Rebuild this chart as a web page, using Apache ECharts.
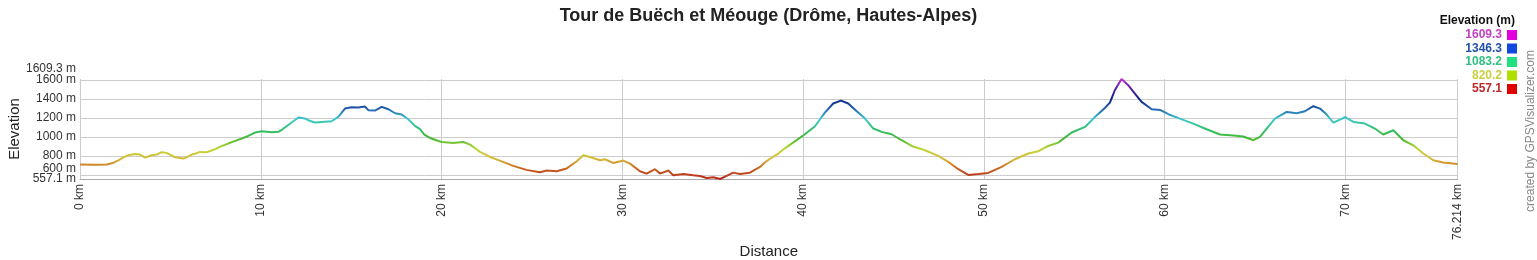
<!DOCTYPE html>
<html>
<head>
<meta charset="utf-8">
<script src="https://cdn.jsdelivr.net/npm/echarts@6/dist/echarts.min.js"></script>
<style>html,body{margin:0;padding:0;background:#fff}#c{width:1537px;height:260px}</style>
</head>
<body>
<div id="c"></div>
<script>
const titleText = 'Tour de Buëch et Méouge (Drôme, Hautes-Alpes)';
const distanceKm = [0,0.8,1.48,1.8,2.12,2.4,2.67,3.04,3.32,3.6,3.96,4.25,4.52,4.79,5.0,5.26,5.72,5.95,6.18,6.4,6.64,7.0,7.47,7.8,8.2,8.55,8.94,9.3,9.68,10.05,10.6,10.97,11.2,11.5,11.8,12.08,12.45,12.7,13.0,13.37,13.92,14.29,14.66,15.03,15.4,15.77,15.95,16.32,16.69,17.06,17.43,17.8,18.16,18.53,18.81,19.05,19.36,19.99,20.65,21.2,21.58,22.13,22.68,23.23,23.97,24.7,25.44,25.82,26.37,26.92,27.48,27.85,28.21,28.77,29.04,29.5,30.06,30.43,30.98,31.35,31.81,32.09,32.55,32.82,33.38,33.93,34.3,34.67,35.04,35.41,35.77,36.14,36.51,37.06,37.62,37.89,38.13,38.63,39.0,39.37,40.03,40.66,41.21,41.67,42.1,42.5,42.97,43.43,43.89,44.35,44.9,45.45,46.01,46.75,47.48,48.04,48.59,49.14,49.7,50.25,50.99,51.72,52.46,53.01,53.57,54.12,54.86,55.6,56.15,56.7,56.98,57.25,57.62,57.99,58.36,58.73,59.29,59.75,60.21,60.85,61.59,62.33,63.07,63.81,64.36,64.92,65.28,65.65,66.11,66.76,67.31,67.77,68.23,68.6,68.97,69.34,69.99,70.45,71.09,71.64,72.1,72.66,73.21,73.76,74.32,74.87,75.42,76.214];
const elevationM = [709,708,709,725,754,785,807,821,814,782,807,815,839,832,810,786,772,790,814,825,842,839,870,900,930,955,982,1010,1046,1060,1049,1053,1080,1123,1165,1203,1193,1170,1151,1158,1165,1210,1298,1312,1309,1319,1281,1277,1316,1291,1249,1235,1186,1116,1081,1025,989,947,937,947,919,842,789,751,695,653,628,646,639,667,744,807,789,754,765,726,751,719,639,614,660,614,646,596,610,596,589,568,575,557.1,589,624,610,624,684,730,765,825,880,930,1018,1112,1256,1351,1382,1351,1270,1193,1088,1053,1028,965,905,860,800,737,660,600,610,621,684,765,825,849,905,940,1046,1105,1210,1305,1361,1491,1609.3,1544,1456,1368,1291,1284,1239,1193,1140,1081,1025,1014,1004,965,1000,1088,1193,1263,1249,1270,1323,1298,1235,1151,1207,1158,1140,1088,1025,1070,965,912,825,754,730,716];
const yMin = 557.1, yMax = 1609.3;
const yTickValues = [557.1,600,800,1000,1200,1400,1600];
const yLabelValues = [600,800,1000,1200,1400,1600];
const xTickValues = [0,10,20,30,40,50,60,70,76.214];
const legendValues = ['1609.3','1346.3','1083.2','820.2','557.1'];
const legendTextColors = ['#c040c0','#2050a8','#30c080','#c8d040','#c02828'];
const legendBoxColors = ['#e000e0','#1048e0','#20e080','#b0e000','#e00000'];
const colorStops = ['#b8281c','#c8601e','#d8b838','#c0d838','#48b830','#30c070','#40c8d0','#2060b0','#102080','#5020a0','#c030d0'];

const seriesData = distanceKm.map((d, i) => [d, elevationM[i]]);
const FONT = '"Liberation Sans", Arial, sans-serif';

const graphics = [];
graphics.push({type:'text', x:1515, y:21, style:{text:'Elevation (m)', font:'bold 12px ' + FONT, fill:'#111', align:'right', verticalAlign:'middle'}});
const legendY = [35, 48.5, 62, 75.5, 89];
legendValues.forEach((v, i) => {
  graphics.push({type:'text', x:1502, y:legendY[i], style:{text:v, font:'bold 12px ' + FONT, fill:legendTextColors[i], align:'right', verticalAlign:'middle'}});
  graphics.push({type:'rect', shape:{x:1507, y:legendY[i]-5, width:10, height:10}, style:{fill:legendBoxColors[i]}});
});
graphics.push({type:'text', x:1531, y:131, rotation:Math.PI/2, style:{text:'created by GPSVisualizer.com', font:'12px ' + FONT, fill:'#888', align:'center', verticalAlign:'middle'}});

const labelStyle = {fontFamily:FONT, fontSize:12, color:'#333'};
function extraAxis(value, padBottom) {
  return {
    type:'value', min:yMin, max:yMax, position:'left', offset:0,
    axisLine:{show:false}, axisTick:{show:false, customValues:[value]}, splitLine:{show:false},
    axisLabel:Object.assign({customValues:[value], margin:4, hideOverlap:false, showMinLabel:true, showMaxLabel:true,
      formatter:() => '{p|' + value + ' m}',
      rich:{p:Object.assign({padding:[0,0,padBottom,0]}, labelStyle)}}, labelStyle)
  };
}

const chart = echarts.init(document.getElementById('c'), null, {renderer:'canvas'});
chart.setOption({
  animation:false,
  title:{text:titleText, left:'center', top:2, textStyle:{fontFamily:FONT, fontWeight:'bold', fontSize:18, color:'#222'}},
  grid:{left:80, top:79, width:1377.6, height:100, containLabel:false, outerBoundsMode:'none'},
  xAxis:{
    type:'value', min:0, max:76.214,
    name:'Distance', nameLocation:'middle', nameGap:64,
    nameTextStyle:{fontFamily:FONT, fontSize:15, color:'#222'},
    axisLine:{show:true, lineStyle:{color:'#aaa'}},
    axisTick:{show:false, customValues:xTickValues},
    axisLabel:Object.assign({customValues:xTickValues, showMinLabel:true, showMaxLabel:true, hideOverlap:false, rotate:90, margin:5, formatter:v => v + ' km'}, labelStyle),
    splitLine:{show:true, lineStyle:{color:'#ccc', width:1}}
  },
  yAxis:[{
    type:'value', min:yMin, max:yMax, position:'left',
    name:'Elevation', nameLocation:'middle', nameGap:58, nameRotate:90,
    nameTextStyle:{fontFamily:FONT, fontSize:15, color:'#222'},
    axisLine:{show:false},
    axisTick:{show:false, customValues:yTickValues},
    axisLabel:Object.assign({customValues:yLabelValues, margin:4, hideOverlap:false,
      formatter:v => v === 600 ? '{mid|600 m}' : v + ' m',
      rich:{mid:Object.assign({padding:[0,0,12,0]}, labelStyle)}
    }, labelStyle),
    splitLine:{show:true, lineStyle:{color:'#ccc', width:1}}
  }, extraAxis(yMax, 20), extraAxis(yMin, 0)],
  visualMap:{type:'continuous', show:false, dimension:1, seriesIndex:0, min:yMin, max:yMax, inRange:{color:colorStops}},
  series:[{type:'line', yAxisIndex:0, data:seriesData, showSymbol:false, symbol:'none', lineStyle:{width:2}, smooth:false}],
  graphic:graphics
});
</script>
</body>
</html>
